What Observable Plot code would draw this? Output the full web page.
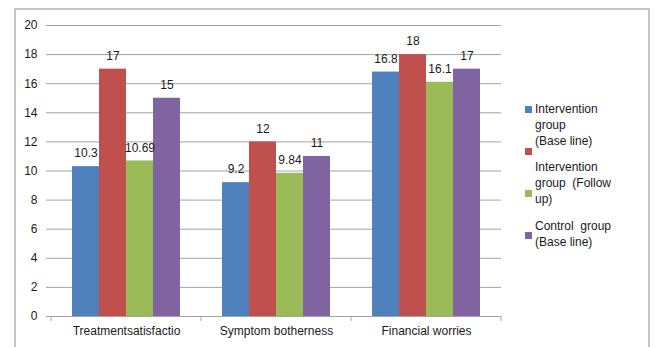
<!DOCTYPE html>
<html>
<head>
<meta charset="utf-8">
<script src="https://cdn.jsdelivr.net/npm/d3@7"></script>
<script src="https://cdn.jsdelivr.net/npm/@observablehq/plot@0.6"></script>
<style>
  html, body { margin: 0; padding: 0; background: #fff; }
  #wrap { position: relative; width: 658px; height: 347px; overflow: hidden;
          font-family: "Liberation Sans", Arial, sans-serif; color: #1a1a1a; }
  #border { position: absolute; left: 14px; top: 8px; width: 636px; height: 400px;
            border: 2px solid #c4c4c4; box-sizing: border-box; }
  #chart { position: absolute; left: 0; top: 0; }
  .sw { position: absolute; width: 7px; height: 7px; }
  .lt { position: absolute; font-size: 12px; line-height: 16px; white-space: pre; }
</style>
</head>
<body>
<div id="wrap">
  <div id="border"></div>
  <div id="chart"></div>
  <div id="legend"></div>
</div>
<script>
// Outcome domains on the x axis
const categories = ["Treatmentsatisfactio", "Symptom botherness", "Financial worries"];
// Groups drawn as bars within each domain
const series = ["Intervention group (Base line)", "Intervention group (Follow up)", "Control group (Base line)", "Control group (Follow up)"];
const colors = ["#4F81BD", "#C0504D", "#9BBB59", "#8064A2"];
// Mean scores per group, one array per domain (in series order)
const treatmentSatisfaction = [10.3, 17, 10.69, 15];
const symptomBotherness = [9.2, 12, 9.84, 11];
const financialWorries = [16.8, 18, 16.1, 17];
const yTicks = [0, 2, 4, 6, 8, 10, 12, 14, 16, 18, 20];
// Legend text blocks as they are laid out beside the chart
const legendBlocks = [
  ["Intervention", "group", "(Base line)"],
  ["Intervention", "group  (Follow", "up)"],
  ["Control  group", "(Base line)"]
];

const valuesByCategory = [treatmentSatisfaction, symptomBotherness, financialWorries];
const data = categories.flatMap((c, i) =>
  series.map((s, j) => ({category: c, series: s, value: valuesByCategory[i][j]}))
);

const grid = "#a3a3a3";
const chart = Plot.plot({
  width: 520,
  height: 347,
  marginLeft: 50,
  marginRight: 18,
  marginTop: 25,
  marginBottom: 31,
  style: {fontFamily: "Liberation Sans, Arial, sans-serif", fontSize: "12px", color: "#1a1a1a", background: "transparent"},
  fx: {domain: categories, padding: 0, label: null},
  x: {domain: series, paddingInner: 0, paddingOuter: 0.75, axis: null},
  y: {domain: [0, 20], label: null},
  color: {domain: series, range: colors},
  marks: [
    Plot.gridY(yTicks.filter(t => t > 0), {stroke: grid, strokeOpacity: 1}),
    Plot.axisY(yTicks, {tickSize: 5, tickPadding: 9, stroke: grid, strokeOpacity: 1, fill: "#1a1a1a", fontSize: 12, label: null}),
    Plot.axisFx({anchor: "bottom", tickSize: 0, tickPadding: 10, fontSize: 12, label: null, fill: "#1a1a1a"}),
    Plot.barY(data, {fx: "category", x: "series", y: "value", fill: "series"}),
    Plot.ruleY([0], {stroke: grid}),
    Plot.text(data, {fx: "category", x: "series", y: "value", text: d => String(d.value), dy: -13, fontSize: 12, fill: "#1a1a1a"})
  ]
});
document.getElementById("chart").appendChild(chart);

// Category boundary tick marks below the x axis, taken from the facet scale
const fx = chart.scale("fx");
const y0 = chart.scale("y").apply(0);
const edges = categories.map(c => fx.apply(c));
edges.push(fx.apply(categories[categories.length - 1]) + fx.bandwidth);
d3.select(chart).append("g")
  .attr("stroke", grid)
  .selectAll("line")
  .data(edges)
  .join("line")
  .attr("x1", d => d).attr("x2", d => d)
  .attr("y1", y0).attr("y2", y0 + 5);

// Legend: swatches evenly spaced, wrapped labels beside them
const legend = document.getElementById("legend");
colors.forEach((col, i) => {
  const s = document.createElement("div");
  s.className = "sw";
  s.style.background = col;
  s.style.left = "525px";
  s.style.top = (106 + i * 42) + "px";
  legend.appendChild(s);
});
const blockTops = [101, 159, 218];
legendBlocks.forEach((lines, i) => {
  const t = document.createElement("div");
  t.className = "lt";
  t.style.left = "535px";
  t.style.top = blockTops[i] + "px";
  t.textContent = lines.join("\n");
  legend.appendChild(t);
});
</script>
</body>
</html>
